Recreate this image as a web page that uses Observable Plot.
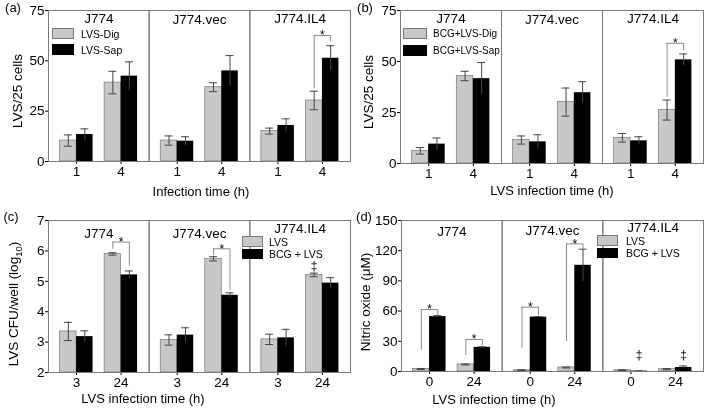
<!DOCTYPE html>
<html>
<head>
<meta charset="utf-8">
<script src="https://cdn.jsdelivr.net/npm/d3@7"></script>
<script src="https://cdn.jsdelivr.net/npm/@observablehq/plot@0.6"></script>
<style>
  body { margin: 0; background: #fff; }
  #root { position: relative; width: 706px; height: 409px; background: #fff; overflow: hidden;
          font-family: "Liberation Sans", Arial, Helvetica, sans-serif; color: #000; }
  #root svg { will-change: transform; }
  .abs { position: absolute; white-space: nowrap; }
  .c { transform: translate(-50%, -50%); }
  .rot { transform: translate(-50%, -50%) rotate(-90deg); }
  .sw { position: absolute; box-sizing: border-box; }
</style>
</head>
<body>
<div id="root"></div>
<script>
// ---------- data ----------
const cells = ["J774", "J774.vec", "J774.IL4"];

// (a) Infection time (h)
const timesA = ["1", "4"];
const aDig    = [10.4, 39.2, 10.4, 36.9, 15.1, 30.3];
const aDigErr = [2.8, 5.6, 2.3, 2.2, 1.5, 4.6];
const aSap    = [13.4, 42.4, 10.1, 45.0, 17.9, 51.3];
const aSapErr = [2.8, 7.1, 2.2, 7.6, 3.3, 6.2];
const aBrackets = [{cell: "J774.IL4", time: "4", lowL: 36.1, top: 62.6, lowR: 59.3}];

// (b) LVS infection time (h)
const timesB = ["1", "4"];
const bDig    = [6.2, 42.9, 11.5, 30.1, 12.6, 26.2];
const bDigErr = [1.6, 2.3, 2.0, 6.9, 2.1, 4.9];
const bSap    = [9.5, 41.6, 10.6, 34.7, 11.1, 50.8];
const bSapErr = [3.0, 7.9, 3.5, 5.4, 2.0, 2.9];
const bBrackets = [{cell: "J774.IL4", time: "4", lowL: 32.4, top: 58.9, lowR: 55.3}];

// (c) LVS CFU/well (log10)
const timesC = ["3", "24"];
const cLVS    = [3.35, 5.90, 3.07, 5.74, 3.09, 5.21];
const cLVSErr = [0.30, 0.04, 0.17, 0.07, 0.17, 0.06];
const cBCG    = [3.18, 5.21, 3.23, 4.54, 3.14, 4.94];
const cBCGErr = [0.19, 0.13, 0.24, 0.08, 0.28, 0.18];
const cBrackets = [
  {cell: "J774", time: "24", lowL: 6.05, top: 6.29, lowR: 5.5},
  {cell: "J774.vec", time: "24", lowL: 5.85, top: 6.07, lowR: 4.69}
];
const cDaggers = [{cell: "J774.IL4", time: "24", series: 0, y: 5.49}];

// (d) Nitric oxide (µM)
const timesD = ["0", "24"];
const dLVS    = [2.5, 7.0, 1.3, 4.0, 1.3, 2.3];
const dLVSErr = [0.5, 0.5, 0.3, 0.5, 0.3, 0.5];
const dBCG    = [54.5, 24.0, 54.0, 105.5, 0.4, 4.0];
const dBCGErr = [1.0, 0.5, 0.5, 16.0, 0.2, 1.5];
const dBrackets = [
  {cell: "J774", time: "0", lowL: 21, top: 61.6, lowR: 55.6},
  {cell: "J774", time: "24", lowL: 16, top: 31.8, lowR: 25.8},
  {cell: "J774.vec", time: "0", lowL: 23, top: 63.9, lowR: 55.6},
  {cell: "J774.vec", time: "24", lowL: 29.8, top: 126.8, lowR: 121.9}
];
const dDaggers = [
  {cell: "J774.IL4", time: "0", series: 1, y: 16},
  {cell: "J774.IL4", time: "24", series: 1, y: 16}
];

// ---------- styling ----------
const FONT = '"Liberation Sans", Arial, Helvetica, sans-serif';
const GRAY = "#c8c8c8", GRAYEDGE = "#777", FRAME = "#7a7a7a", ERR = "#444", BRK = "#8c8c8c";
const PAD = 0.26;

function panel(cfg) {
  const {w, h, ml, mr, mt, mb, times, s1, s1e, s2, s2e, yDomain, yTicks, base, brackets = [], daggers = [], labelDy} = cfg;
  const fw = (w - ml - mr) / cells.length;
  const bw = fw * (1 - PAD) / (times.length + PAD);
  const q = bw / 4, cap = 4;
  const rows = (vals, errs, series) => vals.map((v, i) => ({
    cell: cells[Math.floor(i / times.length)], time: times[i % times.length], series, value: v, err: errs[i]
  }));
  const r1 = rows(s1, s1e, 0), r2 = rows(s2, s2e, 1);
  const common = {fx: "cell", x: "time"};
  const marks = [
    Plot.barY(r1, {...common, y1: base, y2: "value", fill: GRAY, stroke: GRAYEDGE, strokeWidth: 0.7, insetRight: bw / 2}),
    Plot.barY(r2, {...common, y1: base, y2: "value", fill: "#000", insetLeft: bw / 2}),
    Plot.ruleX(r1, {...common, y1: d => Math.max(base, d.value - d.err), y2: d => d.value + d.err, dx: -q, stroke: ERR}),
    Plot.ruleX(r2, {...common, y1: d => Math.max(base, d.value - d.err), y2: d => d.value + d.err, dx: q, stroke: ERR}),
    Plot.tickY(r1, {...common, y: d => d.value + d.err, insetLeft: q - cap, insetRight: 3 * q - cap, stroke: ERR}),
    Plot.tickY(r1, {...common, y: d => Math.max(base, d.value - d.err), insetLeft: q - cap, insetRight: 3 * q - cap, stroke: ERR}),
    Plot.tickY(r2, {...common, y: d => d.value + d.err, insetLeft: 3 * q - cap, insetRight: q - cap, stroke: ERR}),
    Plot.ruleX(brackets, {...common, y1: "lowL", y2: "top", dx: -q, stroke: BRK}),
    Plot.ruleX(brackets, {...common, y1: "lowR", y2: "top", dx: q, stroke: BRK}),
    Plot.tickY(brackets, {...common, y: "top", insetLeft: q, insetRight: q, stroke: BRK}),
    Plot.text(brackets, {...common, y: "top", text: () => "*", dy: 0, fontSize: 12, lineAnchor: "middle", fill: "#000"}),
    Plot.text(daggers.filter(d => d.series === 0), {...common, y: "y", text: () => "\u2021", dx: -q, fontSize: 12, fill: "#000"}),
    Plot.text(daggers.filter(d => d.series === 1), {...common, y: "y", text: () => "\u2021", dx: q, fontSize: 12, fill: "#000"}),
    Plot.frame({stroke: FRAME})
  ];
  cells.forEach((c, i) => {
    marks.push(Plot.text([c], {fx: d => d, text: d => d, frameAnchor: "top", dy: labelDy[i], lineAnchor: "middle", fontSize: 13.5, fill: "#000"}));
  });
  return Plot.plot({
    width: w, height: h, marginLeft: ml, marginRight: mr, marginTop: mt, marginBottom: mb,
    style: {fontFamily: FONT, fontSize: "13.5px", color: "#000", background: "transparent", overflow: "visible"},
    fx: {domain: cells, padding: 0, axis: null, round: false, label: null},
    x: {domain: times, padding: PAD, round: false, tickSize: 3, tickPadding: 2, label: null},
    y: {domain: yDomain, ticks: yTicks, tickFormat: d => String(d), tickSize: 3, tickPadding: 1, label: null},
    marks
  });
}

const root = document.getElementById("root");
function place(node, left, top) {
  node.style.position = "absolute"; node.style.left = left + "px"; node.style.top = top + "px";
  root.appendChild(node);
}
function label(html, cx, cy, size, cls = "c") {
  const d = document.createElement("div");
  d.className = "abs " + cls; d.innerHTML = html;
  d.style.left = cx + "px"; d.style.top = cy + "px"; d.style.fontSize = size + "px";
  root.appendChild(d);
}
function legend(items, x, ys, sw, textX, size) {
  items.forEach((it, i) => {
    const s = document.createElement("div");
    s.className = "sw";
    s.style.left = x + "px"; s.style.top = ys[i][0] + "px";
    s.style.width = sw + "px"; s.style.height = ys[i][1] + "px";
    s.style.background = it.fill; s.style.border = "1px solid " + (i === 0 ? "#777" : "#000");
    root.appendChild(s);
    const t = document.createElement("div");
    t.className = "abs"; t.textContent = it.text;
    t.style.left = textX + "px"; t.style.top = (ys[i][0] + ys[i][1] / 2) + "px";
    t.style.transform = "translateY(-50%)"; t.style.fontSize = size + "px"; t.style.lineHeight = "1";
    root.appendChild(t);
  });
}

place(panel({w: 353, h: 205, ml: 48, mr: 3, mt: 10, mb: 44, times: timesA,
  s1: aDig, s1e: aDigErr, s2: aSap, s2e: aSapErr, yDomain: [0, 75], yTicks: [0, 25, 50, 75], base: 0,
  brackets: aBrackets, labelDy: [8, 9, 8]}), 0, 0);
place(panel({w: 353, h: 205, ml: 47, mr: 3, mt: 10, mb: 42, times: timesB,
  s1: bDig, s1e: bDigErr, s2: bSap, s2e: bSapErr, yDomain: [0, 75], yTicks: [0, 25, 50, 75], base: 0,
  brackets: bBrackets, labelDy: [8, 9, 8]}), 353, 0);
place(panel({w: 353, h: 204, ml: 48, mr: 3, mt: 15, mb: 37, times: timesC,
  s1: cLVS, s1e: cLVSErr, s2: cBCG, s2e: cBCGErr, yDomain: [2, 7], yTicks: [2, 3, 4, 5, 6, 7], base: 2,
  brackets: cBrackets, daggers: cDaggers, labelDy: [13, 13, 8]}), 0, 205);
place(panel({w: 353, h: 204, ml: 48, mr: 3, mt: 15, mb: 38, times: timesD,
  s1: dLVS, s1e: dLVSErr, s2: dBCG, s2e: dBCGErr, yDomain: [0, 150], yTicks: [0, 30, 60, 90, 120, 150], base: 0,
  brackets: dBrackets, daggers: dDaggers, labelDy: [11, 10, 7]}), 353, 205);

// panel letters
label("(a)", 13, 7, 13); label("(b)", 365, 7, 13);
label("(c)", 11, 216, 13); label("(d)", 364, 216, 13);
// axis titles
label("LVS/25 cells", 17, 91, 13.5, "rot");
label("LVS/25 cells", 368, 92, 13.5, "rot");
label("LVS CFU/well (log<sub style='font-size:70%'>10</sub>)", 15, 304, 13.5, "rot");
label("Nitric oxide (\u03bcM)", 365, 302, 13.5, "rot");
label("Infection time (h)", 201, 191, 13);
label("LVS infection time (h)", 552, 190, 13);
label("LVS infection time (h)", 143, 398, 13);
label("LVS infection time (h)", 494, 399, 13);
// legends
legend([{fill: GRAY, text: "LVS-Dig"}, {fill: "#000", text: "LVS-Sap"}], 52, [[28, 11], [44, 11]], 22, 81, 10.5);
legend([{fill: GRAY, text: "BCG+LVS-Dig"}, {fill: "#000", text: "BCG+LVS-Sap"}], 403, [[28, 11], [45, 11]], 24, 433, 10);
legend([{fill: GRAY, text: "LVS"}, {fill: "#000", text: "BCG + LVS"}], 242, [[236, 11], [249, 10]], 21, 269, 10.5);
legend([{fill: GRAY, text: "LVS"}, {fill: "#000", text: "BCG + LVS"}], 597, [[235, 11], [248, 10]], 21, 626, 10.5);
</script>
</body>
</html>
